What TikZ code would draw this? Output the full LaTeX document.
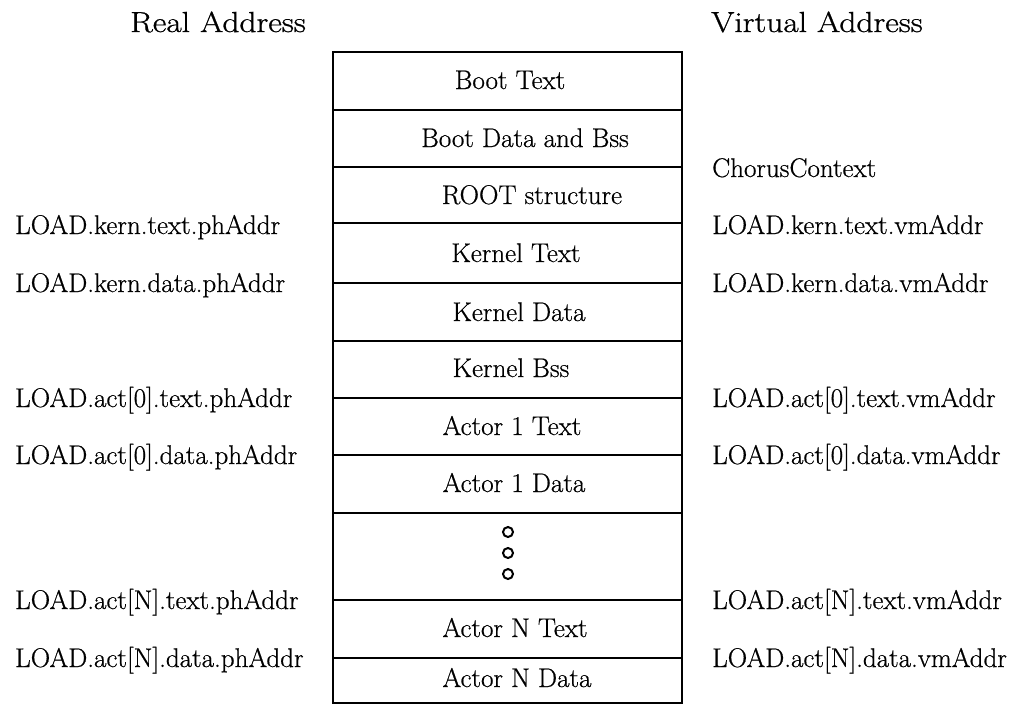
\documentclass[tikz,border=0pt]{standalone}
\usepackage{fontspec}
\setmainfont{Latin Modern Roman}[FakeBold=0.6]
\newfontfamily\headfont{Latin Modern Roman}[FakeStretch=1.15,FakeBold=0.9]
\begin{document}
\begin{tikzpicture}[x=1pt,y=-1pt,
  lbl/.style={font=\fontsize{27}{31}\selectfont, inner sep=0pt},
  head/.style={font=\headfont\fontsize{29}{33}\selectfont, inner sep=0pt, anchor=base},
  side/.style={lbl,anchor=base west},
  part/.style={lbl,anchor=base},
  edge/.style={line width=2.2pt},
  frame/.style={line width=2.6pt},
  dot/.style={circle,draw,line width=2pt,minimum size=10pt,inner sep=0pt}]
\useasboundingbox (0,0) rectangle (1018,715);
% headers
\node[head] (real) at (218,32) {Real Address};
\node[head] (virt) at (817,32) {Virtual Address};
% box
\foreach \yy in {110,167,223,283,341,398,455,513,600,658}
  \draw[edge] (333,\yy) -- (682,\yy);
\draw[frame] (333,52) rectangle (682,703);
% parts
\node[part] (boottext) at (510,89) {Boot Text};
\node[part] (bootdata) at (525,147) {Boot Data and Bss};
\node[part] (root) at (532,204) {ROOT structure};
\node[part] (ktext) at (516,262) {Kernel Text};
\node[part] (kdata) at (519,321) {Kernel Data};
\node[part] (kbss) at (511,377) {Kernel Bss};
\node[part] (a1text) at (512,435) {Actor 1 Text};
\node[part] (a1data) at (514,492) {Actor 1 Data};
\node[dot] (d1) at (508,532) {};
\node[dot] (d2) at (508,553) {};
\node[dot] (d3) at (508,574) {};
\node[part] (antext) at (515,637) {Actor N Text};
\node[part] (andata) at (517,687) {Actor N Data};
% left labels
\node[side] (lkt) at (15,234) {LOAD.kern.text.phAddr};
\node[side] (lkd) at (15,292) {LOAD.kern.data.phAddr};
\node[side] (l0t) at (15,407) {LOAD.act[0].text.phAddr};
\node[side] (l0d) at (15,464) {LOAD.act[0].data.phAddr};
\node[side] (lnt) at (15,609) {LOAD.act[N].text.phAddr};
\node[side] (lnd) at (15,667) {LOAD.act[N].data.phAddr};
% right labels
\node[side] (cc) at (712,177) {ChorusContext};
\node[side] (rkt) at (712,234) {LOAD.kern.text.vmAddr};
\node[side] (rkd) at (712,292) {LOAD.kern.data.vmAddr};
\node[side] (r0t) at (712,407) {LOAD.act[0].text.vmAddr};
\node[side] (r0d) at (712,464) {LOAD.act[0].data.vmAddr};
\node[side] (rnt) at (712,609) {LOAD.act[N].text.vmAddr};
\node[side] (rnd) at (712,667) {LOAD.act[N].data.vmAddr};
\end{tikzpicture}
\end{document}
